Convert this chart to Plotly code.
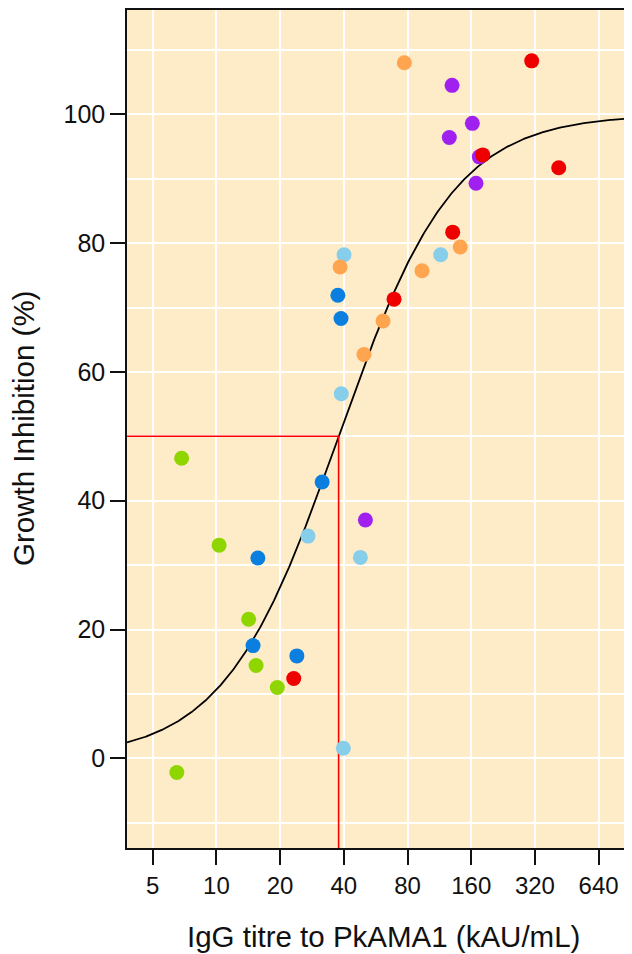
import numpy as np
import plotly.graph_objects as go

# ---- data ----
green_x = [6.85, 10.3, 14.2, 15.4, 19.4, 6.5]
green_y = [46.6, 33.1, 21.6, 14.4, 11.0, -2.2]
blue_x = [37.5, 38.8, 31.6, 15.7, 14.9, 24.0]
blue_y = [71.9, 68.3, 42.9, 31.1, 17.5, 15.9]
lightblue_x = [40.1, 38.9, 27.1, 47.9, 39.8, 114.8]
lightblue_y = [78.2, 56.6, 34.5, 31.2, 1.55, 78.2]
orange_x = [77.3, 38.4, 61.3, 49.8, 93.7, 142.0]
orange_y = [108.0, 76.3, 67.9, 62.7, 75.7, 79.4]
purple_x = [129.9, 162.0, 126.1, 174.8, 168.6, 50.6]
purple_y = [104.5, 98.6, 96.4, 93.4, 89.3, 37.0]
red_x = [309.0, 181.4, 414.7, 130.8, 69.1, 23.2]
red_y = [108.3, 93.7, 91.7, 81.7, 71.3, 12.4]

# fitted 4-parameter logistic curve parameters
fit_bottom = 0.0
fit_top = 100.0
fit_ec50 = 37.8
fit_hill = 1.6

x_ticks = [5, 10, 20, 40, 80, 160, 320, 640]
x_tick_labels = ["5", "10", "20", "40", "80", "160", "320", "640"]
y_ticks = [0, 20, 40, 60, 80, 100]
y_tick_labels = ["0", "20", "40", "60", "80", "100"]

x_range_log = [0.5775, 2.964]
y_range = [-13.93, 116.2]

# ---- styling ----
bg = "#FEEBC8"
groups = [
    (green_x, green_y, "#8FD600"),
    (blue_x, blue_y, "#0A7FDF"),
    (lightblue_x, lightblue_y, "#87CEEB"),
    (orange_x, orange_y, "#FFA54F"),
    (purple_x, purple_y, "#A020F0"),
    (red_x, red_y, "#EE0000"),
]

fig = go.Figure()

# fitted curve
xc = np.logspace(x_range_log[0], x_range_log[1], 400)
yc = fit_bottom + (fit_top - fit_bottom) / (1 + (fit_ec50 / xc) ** fit_hill)
fig.add_trace(go.Scatter(x=xc, y=yc, mode="lines",
                         line=dict(color="black", width=1.8),
                         hoverinfo="skip", showlegend=False))

# EC50 guide lines
xmin = 10 ** x_range_log[0]
half = (fit_top + fit_bottom) / 2
fig.add_trace(go.Scatter(x=[xmin, fit_ec50, fit_ec50], y=[half, half, y_range[0]],
                         mode="lines", line=dict(color="#FF0000", width=1.6),
                         hoverinfo="skip", showlegend=False))

for gx, gy, col in groups:
    fig.add_trace(go.Scatter(x=gx, y=gy, mode="markers",
                             marker=dict(color=col, size=15, line=dict(width=0)),
                             showlegend=False))

# page body has an 8px margin; figure is sized to fill the rest of the window
OFF = 8
W, H = 632 - OFF, 954 - OFF
ml, mt, mb, mr = 127 - OFF, 10 - OFF, 106, 0
pw = W - ml - mr
ph = H - mt - mb

fig.update_layout(
    width=W, height=H,
    margin=dict(l=ml, r=mr, t=mt, b=mb, pad=0),
    paper_bgcolor="white",
    plot_bgcolor=bg,
    font=dict(family="Liberation Sans, Arial, sans-serif", size=24, color="#111111"),
    showlegend=False,
)

fig.update_xaxes(
    type="log", range=x_range_log,
    tickmode="array", tickvals=x_ticks, ticktext=x_tick_labels,
    showgrid=True, gridcolor="white", gridwidth=2,
    ticks="outside", ticklen=15, tickwidth=1.5, tickcolor="#111111",
    showline=True, linecolor="#111111", linewidth=1.5, mirror=True,
    zeroline=False, tickfont=dict(size=24),
)
fig.update_yaxes(
    range=y_range,
    tickmode="array", tickvals=y_ticks, ticktext=y_tick_labels,
    showgrid=True, gridcolor="white", gridwidth=2,
    minor=dict(tickmode="linear", tick0=0, dtick=10, showgrid=True,
               gridcolor="white", gridwidth=2, ticks=""),
    ticks="outside", ticklen=15, tickwidth=1.5, tickcolor="#111111",
    showline=True, linecolor="#111111", linewidth=1.5, mirror=False,
    zeroline=False, tickfont=dict(size=25),
)

# axis titles as annotations (target page pixel positions converted to paper coords)
fig.add_annotation(text="IgG titre to PkAMA1 (kAU/mL)", xref="paper", yref="paper",
                   x=(383.5 - OFF - ml) / pw, y=(H - mb - (937 - OFF)) / ph,
                   xanchor="center", yanchor="middle", showarrow=False,
                   font=dict(size=29.5, color="#111111"))
fig.add_annotation(text="Growth Inhibition (%)", xref="paper", yref="paper",
                   x=(23 - OFF - ml) / pw, y=0.5, textangle=-90,
                   xanchor="center", yanchor="middle", showarrow=False,
                   font=dict(size=29.5, color="#111111"))

fig.write_html("out.html")
